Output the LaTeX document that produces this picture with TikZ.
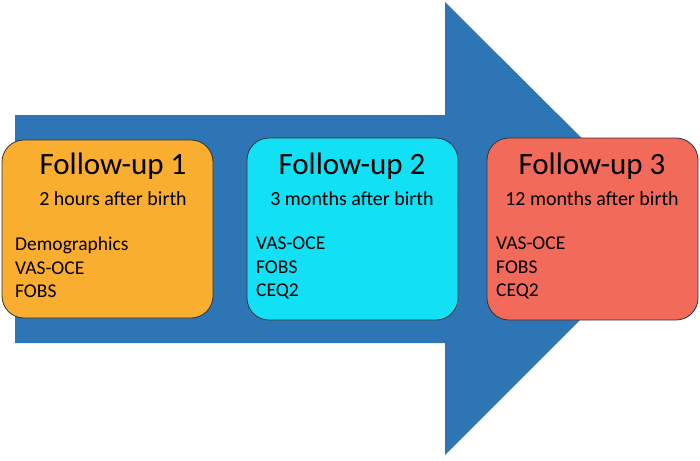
\documentclass[tikz,border=0pt]{standalone}
\usepackage{fontspec}
\setmainfont{Carlito}
\definecolor{arrowc}{HTML}{2E75B6}
\definecolor{c1}{HTML}{F9AE2F}
\definecolor{c2}{HTML}{12E0F5}
\definecolor{c3}{HTML}{F26A5A}
\begin{document}
\begin{tikzpicture}[x=1pt,y=-1pt,
 fbox/.style={draw=black!80,line width=0.8pt,rounded corners=22pt},
 ttl/.style={font=\fontsize{31}{34}\selectfont,anchor=center},
 sub/.style={font=\fontsize{20}{24}\selectfont,anchor=center},
 lst/.style={font=\fontsize{19.5}{23.5}\selectfont,anchor=north west,align=left,inner sep=0pt}]
\useasboundingbox (0,0) rectangle (700,460);
\fill[arrowc] (15,115) -- (445,115) -- (445,2) -- (672,228) -- (445,455) -- (445,343) -- (15,343) -- cycle;
\filldraw[fbox,fill=c1] (2,140) rectangle (213,318);
\filldraw[fbox,fill=c2] (247,138) rectangle (458,320);
\filldraw[fbox,fill=c3] (487,138) rectangle (698,320);
\node[ttl] (t1) at (113,166) {Follow-up 1};
\node[sub] (s1) at (113,199) {2 hours after birth};
\node[lst] (l1) at (15,237) {Demographics\\VAS-OCE\\FOBS};
\node[ttl] (t2) at (352,166) {Follow-up 2};
\node[sub] (s2) at (352,199) {3 months after birth};
\node[lst] (l2) at (256,237) {VAS-OCE\\FOBS\\CEQ2};
\node[ttl] (t3) at (592,166) {Follow-up 3};
\node[sub] (s3) at (592,199) {12 months after birth};
\node[lst] (l3) at (496,237) {VAS-OCE\\FOBS\\CEQ2};
\end{tikzpicture}
\end{document}
